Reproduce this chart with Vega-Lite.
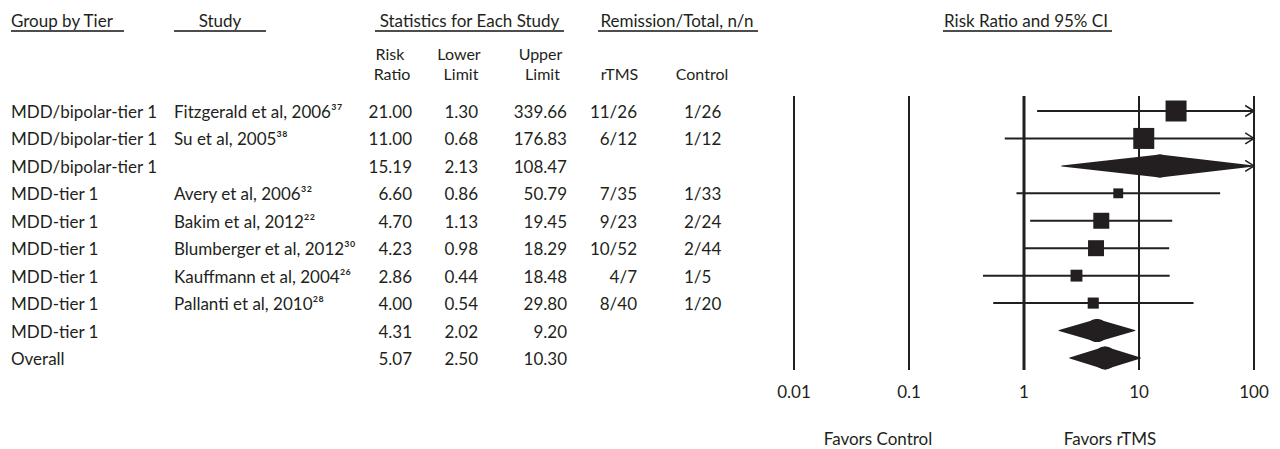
{
  "$schema": "https://vega.github.io/schema/vega-lite/v6.json",
  "width": 1280,
  "height": 449,
  "autosize": "none",
  "padding": 0,
  "background": "white",
  "config": {
    "view": {"stroke": null},
    "font": "Lato",
    "text": {"font": "Lato", "fontSize": 17, "color": "#231f20"}
  },
  "datasets": {
    "studies": [
      {"row": 1, "kind": "study", "tier": "MDD/bipolar-tier 1", "study": "Fitzgerald et al, 2006³⁷", "rr": 21.00, "lower": 1.30, "upper": 339.66, "rtms": "11/26", "control": "1/26", "weight": 50},
      {"row": 2, "kind": "study", "tier": "MDD/bipolar-tier 1", "study": "Su et al, 2005³⁸", "rr": 11.00, "lower": 0.68, "upper": 176.83, "rtms": "6/12", "control": "1/12", "weight": 50},
      {"row": 3, "kind": "summary", "tier": "MDD/bipolar-tier 1", "study": "", "rr": 15.19, "lower": 2.13, "upper": 108.47},
      {"row": 4, "kind": "study", "tier": "MDD-tier 1", "study": "Avery et al, 2006³²", "rr": 6.60, "lower": 0.86, "upper": 50.79, "rtms": "7/35", "control": "1/33", "weight": 11},
      {"row": 5, "kind": "study", "tier": "MDD-tier 1", "study": "Bakim et al, 2012²²", "rr": 4.70, "lower": 1.13, "upper": 19.45, "rtms": "9/23", "control": "2/24", "weight": 29},
      {"row": 6, "kind": "study", "tier": "MDD-tier 1", "study": "Blumberger et al, 2012³⁰", "rr": 4.23, "lower": 0.98, "upper": 18.29, "rtms": "10/52", "control": "2/44", "weight": 29},
      {"row": 7, "kind": "study", "tier": "MDD-tier 1", "study": "Kauffmann et al, 2004²⁶", "rr": 2.86, "lower": 0.44, "upper": 18.48, "rtms": "4/7", "control": "1/5", "weight": 16},
      {"row": 8, "kind": "study", "tier": "MDD-tier 1", "study": "Pallanti et al, 2010²⁸", "rr": 4.00, "lower": 0.54, "upper": 29.80, "rtms": "8/40", "control": "1/20", "weight": 14},
      {"row": 9, "kind": "summary", "tier": "MDD-tier 1", "study": "", "rr": 4.31, "lower": 2.02, "upper": 9.20},
      {"row": 10, "kind": "summary", "tier": "Overall", "study": "", "rr": 5.07, "lower": 2.50, "upper": 10.30}
    ],
    "ticks": [{"tick": 0.01}, {"tick": 0.1}, {"tick": 1}, {"tick": 10}, {"tick": 100}],
    "one": [{}]
  },
  "data": {"name": "studies"},
  "resolve": {"scale": {"x": "independent"}},
  "layer": [
    {
      "layer": [
        {"mark": {"type": "text", "align": "left", "baseline": "alphabetic", "dy": 7},
         "encoding": {"x": {"datum": 11, "type": "quantitative", "scale": {"domain": [0, 1280]}, "axis": null},
                      "y": {"field": "row", "type": "quantitative", "scale": {"domain": [-3.0452, 13.3178], "reverse": true}, "axis": null},
                      "text": {"field": "tier"}}},
        {"mark": {"type": "text", "align": "left", "baseline": "alphabetic", "dy": 7},
         "encoding": {"x": {"datum": 174, "type": "quantitative", "scale": {"domain": [0, 1280]}, "axis": null},
                      "y": {"field": "row", "type": "quantitative", "scale": {"domain": [-3.0452, 13.3178], "reverse": true}, "axis": null},
                      "text": {"field": "study"}}},
        {"mark": {"type": "text", "align": "right", "baseline": "alphabetic", "dy": 7},
         "encoding": {"x": {"datum": 412, "type": "quantitative", "scale": {"domain": [0, 1280]}, "axis": null},
                      "y": {"field": "row", "type": "quantitative", "scale": {"domain": [-3.0452, 13.3178], "reverse": true}, "axis": null},
                      "text": {"field": "rr", "type": "quantitative", "format": ".2f"}}},
        {"mark": {"type": "text", "align": "right", "baseline": "alphabetic", "dy": 7},
         "encoding": {"x": {"datum": 478, "type": "quantitative", "scale": {"domain": [0, 1280]}, "axis": null},
                      "y": {"field": "row", "type": "quantitative", "scale": {"domain": [-3.0452, 13.3178], "reverse": true}, "axis": null},
                      "text": {"field": "lower", "type": "quantitative", "format": ".2f"}}},
        {"mark": {"type": "text", "align": "right", "baseline": "alphabetic", "dy": 7},
         "encoding": {"x": {"datum": 567, "type": "quantitative", "scale": {"domain": [0, 1280]}, "axis": null},
                      "y": {"field": "row", "type": "quantitative", "scale": {"domain": [-3.0452, 13.3178], "reverse": true}, "axis": null},
                      "text": {"field": "upper", "type": "quantitative", "format": ".2f"}}},
        {"transform": [{"filter": "datum.kind === 'study'"}],
         "mark": {"type": "text", "align": "right", "baseline": "alphabetic", "dy": 7},
         "encoding": {"x": {"datum": 637, "type": "quantitative", "scale": {"domain": [0, 1280]}, "axis": null},
                      "y": {"field": "row", "type": "quantitative", "scale": {"domain": [-3.0452, 13.3178], "reverse": true}, "axis": null},
                      "text": {"field": "rtms"}}},
        {"transform": [{"filter": "datum.kind === 'study'"}],
         "mark": {"type": "text", "align": "left", "baseline": "alphabetic", "dy": 7},
         "encoding": {"x": {"datum": 684, "type": "quantitative", "scale": {"domain": [0, 1280]}, "axis": null},
                      "y": {"field": "row", "type": "quantitative", "scale": {"domain": [-3.0452, 13.3178], "reverse": true}, "axis": null},
                      "text": {"field": "control"}}},

        {"data": {"name": "one"}, "mark": {"type": "text", "align": "left", "baseline": "alphabetic", "text": "Group by Tier"},
         "encoding": {"x": {"datum": 11, "type": "quantitative", "scale": {"domain": [0, 1280]}, "axis": null},
                      "y": {"datum": -2.079, "type": "quantitative", "scale": {"domain": [-3.0452, 13.3178], "reverse": true}, "axis": null}}},
        {"data": {"name": "one"}, "mark": {"type": "text", "align": "center", "baseline": "alphabetic", "text": "Study"},
         "encoding": {"x": {"datum": 220, "type": "quantitative", "scale": {"domain": [0, 1280]}, "axis": null},
                      "y": {"datum": -2.079, "type": "quantitative", "scale": {"domain": [-3.0452, 13.3178], "reverse": true}, "axis": null}}},
        {"data": {"name": "one"}, "mark": {"type": "text", "align": "center", "baseline": "alphabetic", "text": "Statistics for Each Study"},
         "encoding": {"x": {"datum": 469.5, "type": "quantitative", "scale": {"domain": [0, 1280]}, "axis": null},
                      "y": {"datum": -2.079, "type": "quantitative", "scale": {"domain": [-3.0452, 13.3178], "reverse": true}, "axis": null}}},
        {"data": {"name": "one"}, "mark": {"type": "text", "align": "center", "baseline": "alphabetic", "text": "Remission/Total, n/n"},
         "encoding": {"x": {"datum": 677, "type": "quantitative", "scale": {"domain": [0, 1280]}, "axis": null},
                      "y": {"datum": -2.079, "type": "quantitative", "scale": {"domain": [-3.0452, 13.3178], "reverse": true}, "axis": null}}},
        {"data": {"name": "one"}, "mark": {"type": "text", "align": "center", "baseline": "alphabetic", "text": "Risk Ratio and 95% CI"},
         "encoding": {"x": {"datum": 1026, "type": "quantitative", "scale": {"domain": [0, 1280]}, "axis": null},
                      "y": {"datum": -2.079, "type": "quantitative", "scale": {"domain": [-3.0452, 13.3178], "reverse": true}, "axis": null}}},

        {"data": {"name": "one"}, "mark": {"type": "rule", "strokeWidth": 2, "color": "#4d4d4d"},
         "encoding": {"x": {"datum": 11, "type": "quantitative", "scale": {"domain": [0, 1280]}, "axis": null}, "x2": {"datum": 124},
                      "y": {"datum": -1.915, "type": "quantitative", "scale": {"domain": [-3.0452, 13.3178], "reverse": true}, "axis": null}}},
        {"data": {"name": "one"}, "mark": {"type": "rule", "strokeWidth": 2, "color": "#4d4d4d"},
         "encoding": {"x": {"datum": 174, "type": "quantitative", "scale": {"domain": [0, 1280]}, "axis": null}, "x2": {"datum": 266},
                      "y": {"datum": -1.915, "type": "quantitative", "scale": {"domain": [-3.0452, 13.3178], "reverse": true}, "axis": null}}},
        {"data": {"name": "one"}, "mark": {"type": "rule", "strokeWidth": 2, "color": "#4d4d4d"},
         "encoding": {"x": {"datum": 375, "type": "quantitative", "scale": {"domain": [0, 1280]}, "axis": null}, "x2": {"datum": 564},
                      "y": {"datum": -1.915, "type": "quantitative", "scale": {"domain": [-3.0452, 13.3178], "reverse": true}, "axis": null}}},
        {"data": {"name": "one"}, "mark": {"type": "rule", "strokeWidth": 2, "color": "#4d4d4d"},
         "encoding": {"x": {"datum": 598, "type": "quantitative", "scale": {"domain": [0, 1280]}, "axis": null}, "x2": {"datum": 758},
                      "y": {"datum": -1.915, "type": "quantitative", "scale": {"domain": [-3.0452, 13.3178], "reverse": true}, "axis": null}}},
        {"data": {"name": "one"}, "mark": {"type": "rule", "strokeWidth": 2, "color": "#4d4d4d"},
         "encoding": {"x": {"datum": 943, "type": "quantitative", "scale": {"domain": [0, 1280]}, "axis": null}, "x2": {"datum": 1112},
                      "y": {"datum": -1.915, "type": "quantitative", "scale": {"domain": [-3.0452, 13.3178], "reverse": true}, "axis": null}}},

        {"data": {"name": "one"}, "mark": {"type": "text", "align": "center", "baseline": "alphabetic", "fontSize": 16, "text": "Risk"},
         "encoding": {"x": {"datum": 390, "type": "quantitative", "scale": {"domain": [0, 1280]}, "axis": null},
                      "y": {"datum": -0.859, "type": "quantitative", "scale": {"domain": [-3.0452, 13.3178], "reverse": true}, "axis": null}}},
        {"data": {"name": "one"}, "mark": {"type": "text", "align": "center", "baseline": "alphabetic", "fontSize": 16, "text": "Ratio"},
         "encoding": {"x": {"datum": 392, "type": "quantitative", "scale": {"domain": [0, 1280]}, "axis": null},
                      "y": {"datum": -0.130, "type": "quantitative", "scale": {"domain": [-3.0452, 13.3178], "reverse": true}, "axis": null}}},
        {"data": {"name": "one"}, "mark": {"type": "text", "align": "center", "baseline": "alphabetic", "fontSize": 16, "text": "Lower"},
         "encoding": {"x": {"datum": 459, "type": "quantitative", "scale": {"domain": [0, 1280]}, "axis": null},
                      "y": {"datum": -0.859, "type": "quantitative", "scale": {"domain": [-3.0452, 13.3178], "reverse": true}, "axis": null}}},
        {"data": {"name": "one"}, "mark": {"type": "text", "align": "center", "baseline": "alphabetic", "fontSize": 16, "text": "Limit"},
         "encoding": {"x": {"datum": 461, "type": "quantitative", "scale": {"domain": [0, 1280]}, "axis": null},
                      "y": {"datum": -0.130, "type": "quantitative", "scale": {"domain": [-3.0452, 13.3178], "reverse": true}, "axis": null}}},
        {"data": {"name": "one"}, "mark": {"type": "text", "align": "center", "baseline": "alphabetic", "fontSize": 16, "text": "Upper"},
         "encoding": {"x": {"datum": 540.5, "type": "quantitative", "scale": {"domain": [0, 1280]}, "axis": null},
                      "y": {"datum": -0.859, "type": "quantitative", "scale": {"domain": [-3.0452, 13.3178], "reverse": true}, "axis": null}}},
        {"data": {"name": "one"}, "mark": {"type": "text", "align": "center", "baseline": "alphabetic", "fontSize": 16, "text": "Limit"},
         "encoding": {"x": {"datum": 542.5, "type": "quantitative", "scale": {"domain": [0, 1280]}, "axis": null},
                      "y": {"datum": -0.130, "type": "quantitative", "scale": {"domain": [-3.0452, 13.3178], "reverse": true}, "axis": null}}},
        {"data": {"name": "one"}, "mark": {"type": "text", "align": "center", "baseline": "alphabetic", "fontSize": 16, "text": "rTMS"},
         "encoding": {"x": {"datum": 619.5, "type": "quantitative", "scale": {"domain": [0, 1280]}, "axis": null},
                      "y": {"datum": -0.130, "type": "quantitative", "scale": {"domain": [-3.0452, 13.3178], "reverse": true}, "axis": null}}},
        {"data": {"name": "one"}, "mark": {"type": "text", "align": "center", "baseline": "alphabetic", "fontSize": 16, "text": "Control"},
         "encoding": {"x": {"datum": 702, "type": "quantitative", "scale": {"domain": [0, 1280]}, "axis": null},
                      "y": {"datum": -0.130, "type": "quantitative", "scale": {"domain": [-3.0452, 13.3178], "reverse": true}, "axis": null}}},

        {"data": {"name": "one"}, "mark": {"type": "text", "align": "center", "baseline": "alphabetic", "text": "Favors Control"},
         "encoding": {"x": {"datum": 878, "type": "quantitative", "scale": {"domain": [0, 1280]}, "axis": null},
                      "y": {"datum": 13.172, "type": "quantitative", "scale": {"domain": [-3.0452, 13.3178], "reverse": true}, "axis": null}}},
        {"data": {"name": "one"}, "mark": {"type": "text", "align": "center", "baseline": "alphabetic", "text": "Favors rTMS"},
         "encoding": {"x": {"datum": 1110, "type": "quantitative", "scale": {"domain": [0, 1280]}, "axis": null},
                      "y": {"datum": 13.172, "type": "quantitative", "scale": {"domain": [-3.0452, 13.3178], "reverse": true}, "axis": null}}}
      ]
    },
    {
      "resolve": {"scale": {"size": "independent"}},
      "layer": [
        {"data": {"name": "ticks"},
         "mark": {"type": "rule", "color": "#231f20"},
         "encoding": {
           "x": {"field": "tick", "type": "quantitative",
                 "scale": {"type": "log", "domain": [0.01, 100], "range": [794, 1254], "clamp": true}, "axis": null},
           "y": {"datum": 0.453, "type": "quantitative", "scale": {"domain": [-3.0452, 13.3178], "reverse": true}, "axis": null},
           "y2": {"datum": 10.439},
           "strokeWidth": {"condition": {"test": "datum.tick === 1", "value": 3}, "value": 2}
         }},
        {"data": {"name": "ticks"},
         "mark": {"type": "text", "align": "center", "baseline": "alphabetic"},
         "encoding": {
           "x": {"field": "tick", "type": "quantitative",
                 "scale": {"type": "log", "domain": [0.01, 100], "range": [794, 1254], "clamp": true}, "axis": null},
           "y": {"datum": 11.459, "type": "quantitative", "scale": {"domain": [-3.0452, 13.3178], "reverse": true}, "axis": null},
           "text": {"field": "tick", "type": "quantitative", "format": ".2~f"}
         }},
        {"transform": [{"filter": "datum.kind === 'study'"}],
         "mark": {"type": "rule", "color": "#231f20", "strokeWidth": 2},
         "encoding": {
           "x": {"field": "lower", "type": "quantitative", "scale": {"type": "log", "domain": [0.01, 100], "range": [794, 1254], "clamp": true}, "axis": null},
           "x2": {"field": "upper"},
           "y": {"field": "row", "type": "quantitative", "scale": {"domain": [-3.0452, 13.3178], "reverse": true}, "axis": null}
         }},
        {"transform": [{"filter": "datum.kind === 'study'"}],
         "mark": {"type": "point", "shape": "square", "filled": true, "color": "#231f20", "opacity": 1, "strokeWidth": 0},
         "encoding": {
           "x": {"field": "rr", "type": "quantitative", "scale": {"type": "log", "domain": [0.01, 100], "range": [794, 1254], "clamp": true}, "axis": null},
           "y": {"field": "row", "type": "quantitative", "scale": {"domain": [-3.0452, 13.3178], "reverse": true}, "axis": null},
           "size": {"field": "weight", "type": "quantitative", "scale": {"domain": [0, 50], "range": [0, 441]}, "legend": null}
         }},
        {"transform": [{"filter": "datum.kind === 'summary'"}, {"fold": ["lower", "rr"], "as": ["key", "value"]}],
         "mark": {"type": "trail", "color": "#231f20"},
         "encoding": {
           "x": {"field": "value", "type": "quantitative", "scale": {"type": "log", "domain": [0.01, 100], "range": [794, 1254], "clamp": true}, "axis": null},
           "y": {"field": "row", "type": "quantitative", "scale": {"domain": [-3.0452, 13.3178], "reverse": true}, "axis": null},
           "size": {"field": "key", "type": "ordinal", "scale": {"type": "point", "domain": ["lower", "rr"], "range": [0, 23]}, "legend": null},
           "detail": {"field": "row", "type": "nominal"}
         }},
        {"transform": [{"filter": "datum.kind === 'summary'"}, {"fold": ["rr", "upper"], "as": ["key", "value"]}],
         "mark": {"type": "trail", "color": "#231f20"},
         "encoding": {
           "x": {"field": "value", "type": "quantitative", "scale": {"type": "log", "domain": [0.01, 100], "range": [794, 1254], "clamp": true}, "axis": null},
           "y": {"field": "row", "type": "quantitative", "scale": {"domain": [-3.0452, 13.3178], "reverse": true}, "axis": null},
           "size": {"field": "key", "type": "ordinal", "scale": {"type": "point", "domain": ["upper", "rr"], "range": [0, 23]}, "legend": null},
           "detail": {"field": "row", "type": "nominal"}
         }},
        {"transform": [{"filter": "datum.upper > 100"}],
         "mark": {"type": "point", "shape": "M-1.6,-1L0,0L-1.6,1", "size": 121, "filled": false, "color": "#231f20", "strokeWidth": 1.5, "opacity": 1},
         "encoding": {
           "x": {"field": "upper", "type": "quantitative", "scale": {"type": "log", "domain": [0.01, 100], "range": [794, 1254], "clamp": true}, "axis": null},
           "y": {"field": "row", "type": "quantitative", "scale": {"domain": [-3.0452, 13.3178], "reverse": true}, "axis": null}
         }}
      ]
    }
  ]
}
